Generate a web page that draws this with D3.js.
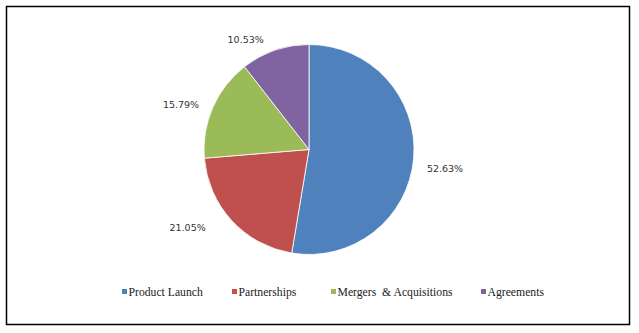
<!DOCTYPE html>
<html>
<head>
<meta charset="utf-8">
<script src="https://cdn.jsdelivr.net/npm/d3@7"></script>
<style>
    body { margin: 0; background: #fff; }
    .pct { font-family: "DejaVu Sans", Verdana, sans-serif; font-size: 9.5px; fill: #333; }
    .legend text { font-family: "Liberation Serif", Cambria, serif; font-size: 11.7px; fill: #222; }
</style>
</head>
<body>
<div id="chart"></div>
<script>
// data
const categories = ["Product Launch", "Partnerships", "Mergers  & Acquisitions", "Agreements"];
const shares = [52.63, 21.05, 15.79, 10.53];
const colors = ["#4f81bd", "#c0504d", "#9bbb59", "#8064a2"];

// small manual nudges for the outside labels (Excel-style placement)
const labelNudge = [[0, 8], [-21, -14], [-3, 10], [-19, 19]];

const width = 639, height = 333;
const cx = 309, cy = 149.5, radius = 105;

const svg = d3.select("#chart").append("svg")
    .attr("width", width)
    .attr("height", height);

// frame
svg.append("rect")
    .attr("x", 6.5).attr("y", 6.5)
    .attr("width", 623).attr("height", 318)
    .attr("fill", "none")
    .attr("stroke", "#000")
    .attr("stroke-width", 1.5);

const pie = d3.pie().sort(null).value(d => d);
const arcs = pie(shares);

const arc = d3.arc().innerRadius(0).outerRadius(radius);
const labelArc = d3.arc().innerRadius(radius * 1.3).outerRadius(radius * 1.3);

const g = svg.append("g").attr("transform", `translate(${cx}, ${cy})`);

g.selectAll("path").data(arcs)
    .enter()
    .append("path")
    .attr("d", arc)
    .attr("fill", (d, i) => colors[i])
    .attr("stroke", "#fff")
    .attr("stroke-width", 0.8);

g.selectAll("text.pct").data(arcs)
    .enter()
    .append("text")
    .attr("class", "pct")
    .attr("text-anchor", "middle")
    .attr("dominant-baseline", "central")
    .attr("x", (d, i) => labelArc.centroid(d)[0] + labelNudge[i][0])
    .attr("y", (d, i) => labelArc.centroid(d)[1] + labelNudge[i][1])
    .text(d => d.data.toFixed(2) + "%");

// legend
const legendX = [122, 232, 331, 481];
const legend = svg.append("g").attr("class", "legend");
const items = legend.selectAll("g").data(categories)
    .enter()
    .append("g")
    .attr("transform", (d, i) => `translate(${legendX[i]}, 291.5)`);

items.append("rect")
    .attr("x", 0).attr("y", -2.5)
    .attr("width", 5).attr("height", 5)
    .attr("fill", (d, i) => colors[i]);

items.append("text")
    .attr("x", 6.5)
    .attr("y", 4)
    .attr("xml:space", "preserve")
    .style("white-space", "pre")
    .text(d => d);
</script>
</body>
</html>
